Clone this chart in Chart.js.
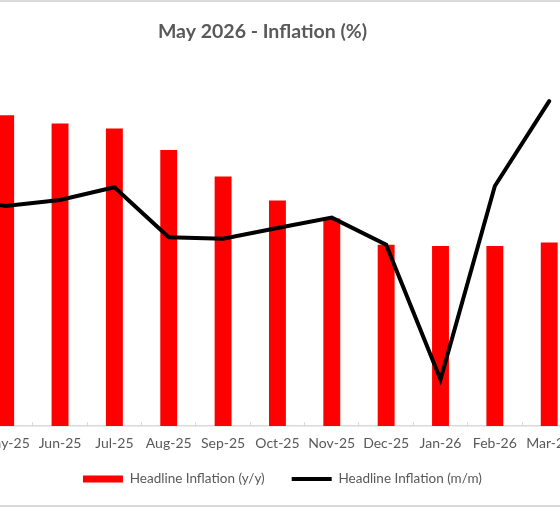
<!DOCTYPE html>
<html>
<head>
<meta charset="utf-8">
<script src="https://cdn.jsdelivr.net/npm/chart.js@4.4.1/dist/chart.umd.min.js"></script>
<style>
  html, body { margin: 0; padding: 0; background: #fff; overflow: hidden; }
  #frame { position: relative; width: 560px; height: 503px; border-top: 2px solid #d9d9d9; border-bottom: 2px solid #d9d9d9; overflow: hidden; }
  #wrap { position: absolute; left: -61px; top: 0; width: 647px; height: 503px; }
</style>
</head>
<body>
<div id="frame"><div id="wrap"><canvas id="inflationChart"></canvas></div></div>
<script>
Chart.defaults.font.family = 'Lato'
Chart.defaults.font.size = 14
Chart.defaults.color = '#595959'

// the picture is a crop: Apr-25 and Apr-26 sit just outside the frame
const months = ['Apr-25', 'May-25', 'Jun-25', 'Jul-25', 'Aug-25', 'Sep-25', 'Oct-25',
                'Nov-25', 'Dec-25', 'Jan-26', 'Feb-26', 'Mar-26', 'Apr-26'];
const firstShown = 'May-25';
const lastShown = 'Mar-26';
const headlineYoY = [null, 23.4, 22.7, 22.3, 20.5, 18.3, 16.3, 14.8, 12.6, 12.5, 12.5, 12.8, null];
const headlineMoM = [1.7, 1.5, 1.65, 1.97, 0.72, 0.68, 0.95, 1.21, 0.53, -2.84, 2.0, 4.12, 1.8];
const yoyRange = [-2.5, 27.5];
const momRange = [-4, 5];

// value axes exist but sit off the visible crop, so they are kept blank
const hiddenAxis = (min, max, position, width) => ({
    position: position,
    min: min,
    max: max,
    grid: { display: false },
    border: { display: false },
    ticks: { display: false },
    afterFit: (scale) => { scale.width = width; }
});

// legend shares its padding between rows and items; nudge the box instead
const legendNudge = {
    id: 'legendNudge',
    afterLayout: (chart, args, opts) => {
        const legend = chart.legend;
        legend.left += opts.x;
        legend.right += opts.x;
        legend.top += opts.y;
        legend.bottom += opts.y;
    }
};

const renderInflationChart = () => {
    const canvas = document.getElementById('inflationChart');

    new Chart(canvas, {
        type: 'bar',
        data: {
            labels: months,
            datasets: [{
                label: 'Headline Inflation (y/y)',
                data: headlineYoY,
                backgroundColor: '#ff0000',
                borderWidth: 0,
                base: yoyRange[0],
                yAxisID: 'y',
                categoryPercentage: 1,
                barPercentage: 0.311,
                pointStyle: 'rect',
                order: 1
            }, {
                type: 'line',
                label: 'Headline Inflation (m/m)',
                data: headlineMoM,
                borderColor: '#000000',
                backgroundColor: '#000000',
                borderWidth: 4,
                borderCapStyle: 'round',
                borderJoinStyle: 'miter',
                pointRadius: 0,
                pointHoverRadius: 0,
                tension: 0,
                yAxisID: 'y1',
                pointStyle: 'line',
                order: 0
            }]
        },
        plugins: [legendNudge],
        options: {
            responsive: true,
            maintainAspectRatio: false,
            animation: false,
            layout: {
                padding: { left: 0, right: 0, top: 0, bottom: -0.5 }
            },
            plugins: {
                title: {
                    display: true,
                    text: 'May 2026 - Inflation (%)',
                    color: '#595959',
                    font: { size: 19.5, weight: 'bold' },
                    padding: { top: 17.6, bottom: 23 }
                },
                legend: {
                    position: 'bottom',
                    fullSize: false,
                    labels: {
                        usePointStyle: true,
                        pointStyleWidth: 40,
                        boxHeight: 7,
                        padding: 27,
                        color: '#595959',
                        font: { size: 13.5 },
                        sort: (a, b) => a.datasetIndex - b.datasetIndex
                    }
                },
                legendNudge: { x: 5, y: -9.75 },
                tooltip: { enabled: false }
            },
            scales: {
                x: {
                    min: firstShown,
                    max: lastShown,
                    grid: {
                        display: true,
                        offset: true,
                        drawOnChartArea: false,
                        drawTicks: true,
                        tickLength: -4,
                        color: '#d9d9d9',
                        lineWidth: 1
                    },
                    border: { color: '#d9d9d9', width: 1.5 },
                    ticks: {
                        color: '#595959',
                        maxRotation: 0,
                        autoSkip: false,
                        padding: 13.5
                    },
                    afterFit: (scale) => { scale.height = 29; }
                },
                y: hiddenAxis(yoyRange[0], yoyRange[1], 'left', 39.5),
                y1: hiddenAxis(momRange[0], momRange[1], 'right', 6.5)
            }
        }
    });
};

document.addEventListener('DOMContentLoaded', () => {
    renderInflationChart();
});
</script>
</body>
</html>
